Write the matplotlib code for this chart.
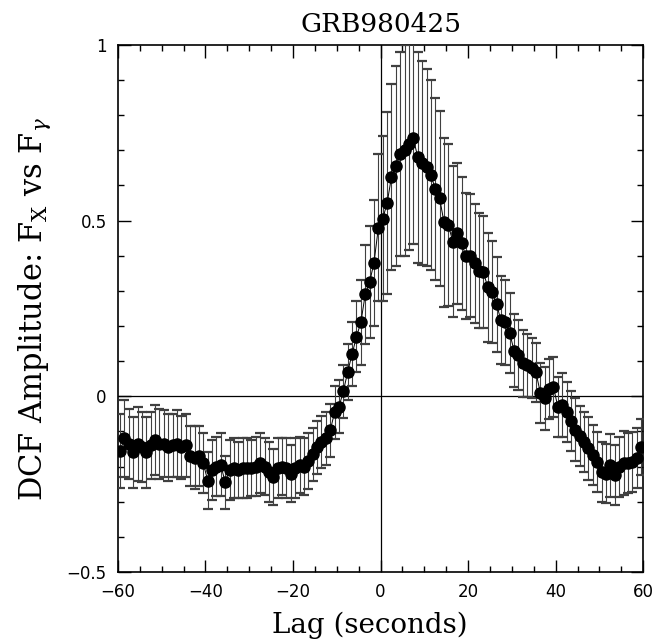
import matplotlib
matplotlib.use('Agg')
import matplotlib.pyplot as plt
import numpy as np
from matplotlib.ticker import MultipleLocator

# DCF of GRB980425, X-ray vs gamma-ray flux, lag in seconds
lags = np.arange(-59.5, 60.0, 1.0)

dcf = [
    -0.155, -0.120, -0.135, -0.160, -0.135, -0.145, -0.160, -0.140, -0.125, -0.135,
    -0.135, -0.145, -0.140, -0.135, -0.145, -0.140, -0.170, -0.175, -0.170, -0.190,
    -0.240, -0.210, -0.200, -0.195, -0.245, -0.210, -0.205, -0.210, -0.205, -0.205,
    -0.205, -0.200, -0.190, -0.200, -0.215, -0.230, -0.205, -0.200, -0.205, -0.220,
    -0.205, -0.195, -0.200, -0.185, -0.165, -0.145, -0.130, -0.120, -0.097, -0.046,
    -0.030, 0.014, 0.070, 0.120, 0.170, 0.210, 0.290, 0.325, 0.380, 0.480,
    0.505, 0.550, 0.625, 0.655, 0.690, 0.700, 0.717, 0.734, 0.680, 0.663,
    0.652, 0.630, 0.590, 0.563, 0.495, 0.487, 0.440, 0.464, 0.435, 0.400,
    0.400, 0.378, 0.358, 0.353, 0.310, 0.296, 0.262, 0.216, 0.210, 0.180,
    0.130, 0.117, 0.094, 0.088, 0.080, 0.068, 0.010, -0.006, 0.020, 0.026,
    -0.030, -0.025, -0.045, -0.070, -0.095, -0.113, -0.130, -0.148, -0.168, -0.187,
    -0.216, -0.220, -0.196, -0.225, -0.202, -0.190, -0.190, -0.188, -0.176, -0.145,
]

dcf_err = [
    0.105, 0.110, 0.100, 0.100, 0.105, 0.100, 0.100, 0.095, 0.100, 0.100,
    0.095, 0.095, 0.090, 0.095, 0.090, 0.090, 0.085, 0.090, 0.085, 0.085,
    0.080, 0.085, 0.085, 0.090, 0.075, 0.085, 0.085, 0.080, 0.085, 0.085,
    0.080, 0.085, 0.085, 0.080, 0.085, 0.080, 0.085, 0.080, 0.085, 0.080,
    0.085, 0.080, 0.080, 0.080, 0.075, 0.075, 0.075, 0.075, 0.075, 0.075,
    0.075, 0.075, 0.080, 0.090, 0.100, 0.120, 0.140, 0.160, 0.180, 0.210,
    0.235, 0.260, 0.265, 0.285, 0.290, 0.300, 0.300, 0.300, 0.300, 0.290,
    0.280, 0.270, 0.260, 0.250, 0.240, 0.230, 0.215, 0.200, 0.190, 0.180,
    0.175, 0.170, 0.165, 0.160, 0.155, 0.145, 0.135, 0.125, 0.120, 0.115,
    0.105, 0.100, 0.095, 0.090, 0.085, 0.085, 0.085, 0.090, 0.085, 0.085,
    0.085, 0.090, 0.085, 0.085, 0.090, 0.085, 0.085, 0.090, 0.085, 0.085,
    0.085, 0.085, 0.090, 0.085, 0.085, 0.090, 0.085, 0.085, 0.085, 0.080,
]

plt.rcParams['mathtext.fontset'] = 'dejavuserif'

fig = plt.figure(figsize=(6.55, 6.39), dpi=100)
ax = fig.add_axes([0.180, 0.105, 0.802, 0.8246])

ax.axhline(0, color='black', lw=0.9, zorder=1)
ax.axvline(0, color='black', lw=0.9, zorder=1)

ax.errorbar(lags, dcf, yerr=dcf_err, fmt='-o', color='black', lw=0.7,
            ms=8, ecolor='0.25', elinewidth=0.8, capsize=3.6, capthick=1.6,
            zorder=3)

ax.set_xlim(-60, 60)
ax.set_ylim(-0.5, 1.0)
ax.xaxis.set_major_locator(MultipleLocator(20))
ax.xaxis.set_minor_locator(MultipleLocator(5))
ax.yaxis.set_major_locator(MultipleLocator(0.5))
ax.yaxis.set_minor_locator(MultipleLocator(0.1))
ax.set_yticks([-0.5, 0, 0.5, 1])
ax.set_yticklabels(['\u22120.5', '0', '0.5', '1'])
ax.tick_params(which='both', direction='in', top=True, right=True,
               labelsize=12, width=1.0)
ax.tick_params(which='major', length=9)
ax.tick_params(which='minor', length=4.5)
ax.tick_params(axis='x', pad=8)
ax.tick_params(axis='y', pad=8)
for sp in ax.spines.values():
    sp.set_linewidth(1.2)

ax.set_title('GRB980425', family='DejaVu Serif', fontsize=19, pad=9)
ax.set_xlabel('Lag (seconds)', family='DejaVu Serif', fontsize=20)
ax.xaxis.set_label_coords(0.48, -0.075)
ax.set_ylabel(r'DCF Amplitude: F$_{\rm X}$ vs F$_\gamma$',
              family='DejaVu Serif', fontsize=22, labelpad=10)

fig.savefig('out.png', dpi=100)
